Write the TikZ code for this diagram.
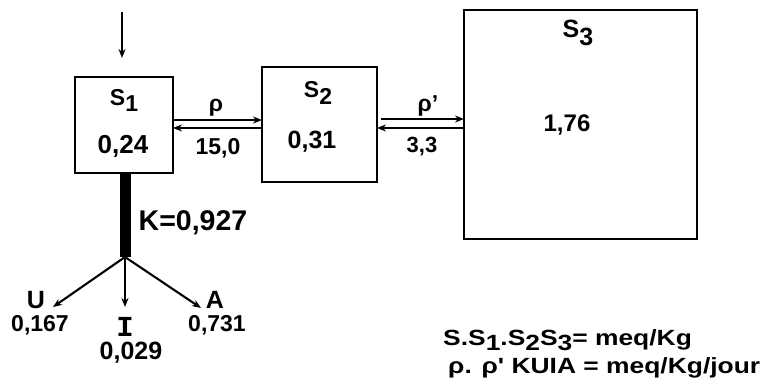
\documentclass[tikz,border=0pt]{standalone}
\usepackage{fontspec}
\setmainfont{Liberation Sans}
\newfontfamily\legfont{Liberation Sans}[FakeStretch=1.2]
\newfontfamily\serifI{Liberation Mono}
\usetikzlibrary{arrows.meta}
\newcommand{\sub}[2][6pt]{\raisebox{-#1}{#2}}
\begin{document}
\begin{tikzpicture}[x=1pt,y=-1pt,
  box/.style={draw,line width=2.5pt,inner sep=0pt,outer sep=0pt},
  arr/.style={line width=2.1pt,-{Stealth[length=9pt,width=7pt]}},
  txt/.style={font=\fontsize{#1}{#1}\selectfont\bfseries,inner sep=0pt},
  leg/.style={font=\fontsize{22}{22}\selectfont\legfont\bfseries,inner sep=0pt,anchor=west}]
\useasboundingbox (0,0) rectangle (760,387);
% boxes
\node[box,minimum width=98pt,minimum height=96pt] (s1) at (124,125) {};
\node[box,minimum width=115pt,minimum height=115pt] (s2) at (319.5,124.5) {};
\node[box,minimum width=233pt,minimum height=229pt] (s3) at (580.5,124.5) {};
% box labels
\node[txt=23] (s1n) at (124,100) {S\sub{1}};
\node[txt=26] (s1v) at (123,146) {0,24};
\node[txt=23] (s2n) at (318,93) {S\sub[7pt]{2}};
\node[txt=25] (s2v) at (312,142) {0,31};
\node[txt=25] (s3n) at (578,33) {S\sub[8pt]{3}};
\node[txt=24] (s3v) at (567,125) {1,76};
% input arrow
\coordinate (in) at (122,12);
\draw[arr,shorten >=19pt] (in) -- (in |- s1.north);
% exchanges S1-S2
\draw[arr] (s1.east |- 0,120) -- (s2.west |- 0,120);
\draw[arr] (s2.west |- 0,128) -- (s1.east |- 0,128);
\node[txt=23] (rho) at (216,108) {ρ};
\node[txt=23] (k12) at (218,148) {15,0};
% exchanges S2-S3
\draw[arr] ([xshift=4pt]s2.east |- 0,119) -- (s3.west |- 0,119);
\draw[arr] (s3.west |- 0,128) -- (s2.east |- 0,128);
\node[txt=23] (rhop) at (428,106) {ρ'};
\node[txt=22] (k23) at (422,147) {3,3};
% output bar
\coordinate (hub) at (125,257);
\draw[line width=11pt] (s1.south -| hub) -- (hub);
\node[txt=28.5] (K) at (193,223) {K=0,927};
\coordinate (u) at (53,307);
\coordinate (i) at (125,307);
\coordinate (a) at (201,308);
\draw[arr] (hub) -- (u);
\draw[arr] (hub) -- (i);
\draw[arr] (hub) -- (a);
\node[txt=25] (ul) at (36,300) {U};
\node[txt=23] (uv) at (40,325) {0,167};
\node[txt=29] (il) at (125,327) {\serifI I};
\node[txt=25] (iv) at (131,353) {0,029};
\node[txt=25] (al) at (215,300) {A};
\node[txt=23] (av) at (217,325) {0,731};
% legend
\node[leg] (leg1) at (443,340) {S.S\sub[5pt]{1}.S\sub[5pt]{2}S\sub[5pt]{3}= meq/Kg};
\node[leg] (leg2) at (448,368) {ρ. ρ' KUIA = meq/Kg/jour};
\end{tikzpicture}
\end{document}
